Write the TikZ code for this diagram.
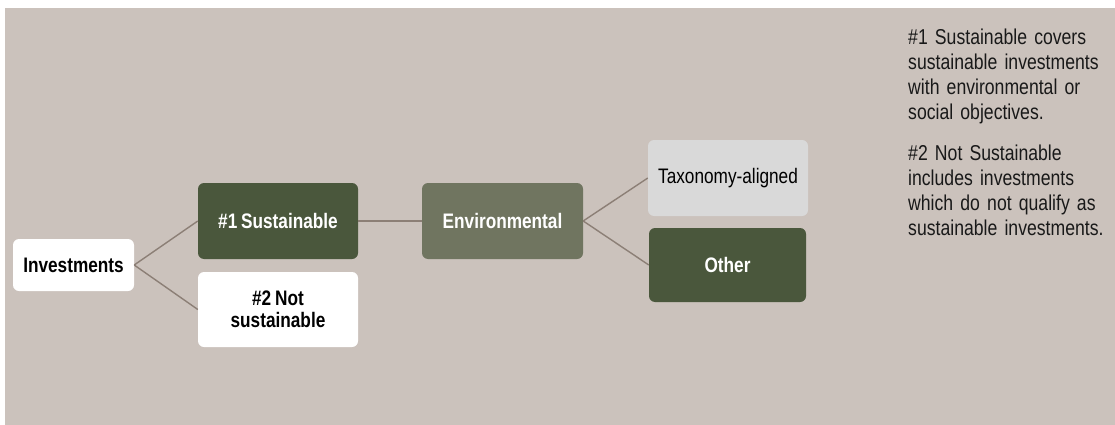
\documentclass[tikz,border=0pt]{standalone}
\usepackage{fontspec}
\setmainfont{Liberation Sans}[FakeStretch=0.82,WordSpace=0.8]
\definecolor{bgc}{RGB}{203,194,188}
\definecolor{darkg}{RGB}{74,87,60}
\definecolor{envg}{RGB}{112,117,96}
\definecolor{taxg}{RGB}{217,217,217}
\definecolor{linec}{RGB}{140,127,118}
\begin{document}
\begin{tikzpicture}[x=1pt,y=-1pt,
  box/.style={rectangle, rounded corners=6pt, inner sep=0pt, align=center,
    font=\fontsize{21}{22}\selectfont\bfseries},
  whitebox/.style={box, fill=white, text=black},
  darkbox/.style={box, fill=darkg, text=white},
  envbox/.style={box, fill=envg, text=white},
  taxbox/.style={box, fill=taxg, text=black, font=\fontsize{21}{22}\selectfont},
  conn/.style={draw=linec, line width=1.4pt},
  note/.style={anchor=base west, text width=205pt, align=left, inner sep=0pt,
    font=\fontsize{21.5}{25}\selectfont, text=black!90}]
\useasboundingbox (0,0) rectangle (1115,425);
\fill[bgc] (5,8) rectangle (1115,425);
\node[whitebox, minimum width=121pt, minimum height=52pt] (inv) at (73.5,265) {Investments};
\node[darkbox, minimum width=160pt, minimum height=76pt] (s1) at (278,221) {\#1 Sustainable};
\node[whitebox, minimum width=160pt, minimum height=75pt] (s2) at (278,309.5) {\#2 Not\\sustainable};
\node[envbox, minimum width=161pt, minimum height=76pt] (env) at (502.5,221) {Environmental};
\node[taxbox, minimum width=160pt, minimum height=76pt] (tax) at (728,178) {Taxonomy-aligned};
\node[darkbox, minimum width=157pt, minimum height=74pt] (oth) at (727.5,265) {Other};
\draw[conn] (inv.east) -- (s1.west);
\draw[conn] (inv.east) -- (s2.west);
\draw[conn] (s1.east) -- (env.west);
\draw[conn] (env.east) -- (tax.west);
\draw[conn] (env.east) -- (oth.west);
\node[note] (n1) at (908,45) {\#1 Sustainable covers\\sustainable investments\\with environmental or\\social objectives.};
\node[note] (n2) at (908,160) {\#2 Not Sustainable\\includes investments\\which do not qualify as\\sustainable investments.};
\end{tikzpicture}
\end{document}
